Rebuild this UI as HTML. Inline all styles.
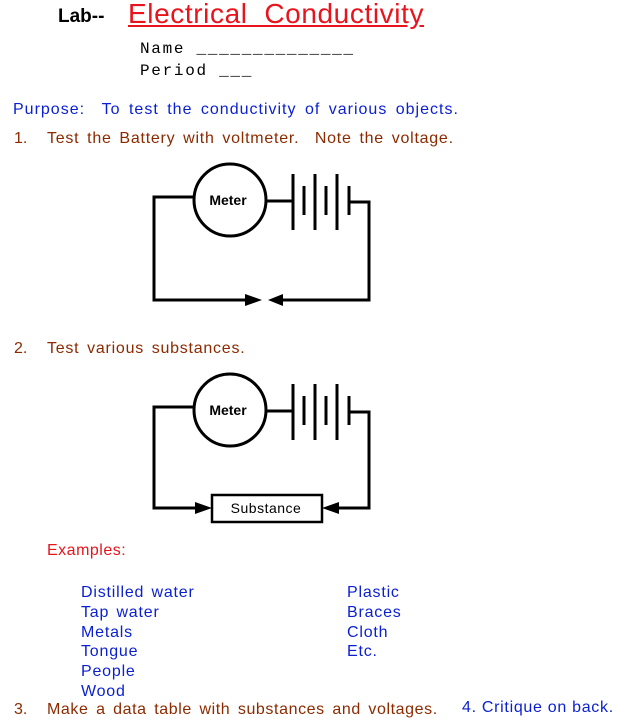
<!DOCTYPE html>
<html><head><style>
body{margin:0;width:623px;height:727px;background:#fff;position:relative;overflow:hidden;font-family:"Liberation Sans",sans-serif}
.t{position:absolute;white-space:nowrap}
.br{color:#8b2a00;font-size:16px;letter-spacing:0.75px;word-spacing:2.6px}
.bl{color:#0a1fd0;font-size:16px;letter-spacing:1px;word-spacing:3px}
.n{color:#8b2a00;font-size:16px}
</style></head><body>
<div class="t" style="left:58px;top:6px;font-size:19px;font-weight:bold;color:#000">Lab--</div>
<div class="t" style="left:128px;top:-2px;font-size:28px;letter-spacing:0.6px;color:#e8141c;text-decoration:underline">Electrical&nbsp; Conductivity</div>
<div class="t" style="left:140px;top:40px;font-size:16px;font-family:'Liberation Mono',monospace;letter-spacing:1.7px">Name ______________</div>
<div class="t" style="left:140px;top:62px;font-size:16px;font-family:'Liberation Mono',monospace;letter-spacing:1.7px">Period ___</div>
<div class="t bl" style="left:13px;top:101px">Purpose:&nbsp; To test the conductivity of various objects.</div>
<div class="t n" style="left:14px;top:130px">1.</div>
<div class="t br" style="left:47px;top:130px">Test the Battery with voltmeter. &nbsp;Note the voltage.</div>
<div class="t n" style="left:14px;top:340px">2.</div>
<div class="t br" style="left:47px;top:340px">Test various substances.</div>
<div class="t" style="left:47px;top:542px;color:#e8141c;font-size:16px;letter-spacing:0.5px">Examples:</div>
<div class="t bl" style="left:81px;top:583px;line-height:19.8px;letter-spacing:0.8px;word-spacing:2px">Distilled water<br>Tap water<br>Metals<br>Tongue<br>People<br>Wood</div>
<div class="t bl" style="left:347px;top:583px;line-height:19.8px;letter-spacing:0.8px">Plastic<br>Braces<br>Cloth<br>Etc.</div>
<div class="t n" style="left:14px;top:701px">3.</div>
<div class="t br" style="left:47px;top:701px;letter-spacing:0.6px;word-spacing:2.5px">Make a data table with substances and voltages.</div>
<div class="t" style="left:462px;top:699px;color:#0a1fd0;font-size:16px;letter-spacing:0.7px">4. Critique on back.</div>
<svg width="623" height="727" style="position:absolute;left:0;top:0" fill="none" stroke="#000" stroke-width="3">
<g>
<polyline points="194,197 154,197 154,300 245,300"/>
<polyline points="283,300 369,300 369,202 350,202"/>
<circle cx="230" cy="200" r="36"/>
<line x1="266" y1="201" x2="293" y2="201"/>
<line x1="293" y1="174" x2="293" y2="230"/>
<line x1="304" y1="186" x2="304" y2="215"/>
<line x1="315" y1="174" x2="315" y2="230"/>
<line x1="326" y1="186" x2="326" y2="215"/>
<line x1="337" y1="174" x2="337" y2="230"/>
<line x1="349" y1="186" x2="349" y2="215"/>
<text x="228" y="205" font-size="14" font-weight="bold" fill="#000" stroke="none" text-anchor="middle" font-family="Liberation Sans,sans-serif">Meter</text>
</g>
<polygon points="245,294 262,300 245,306" fill="#000" stroke="none"/>
<polygon points="283,294 268,300 283,306" fill="#000" stroke="none"/>
<g transform="translate(0,210)">
<polyline points="194,197 154,197 154,298 198,298"/>
<polyline points="336,298 369,298 369,202 350,202"/>
<circle cx="230" cy="200" r="36"/>
<line x1="266" y1="201" x2="293" y2="201"/>
<line x1="293" y1="174" x2="293" y2="230"/>
<line x1="304" y1="186" x2="304" y2="215"/>
<line x1="315" y1="174" x2="315" y2="230"/>
<line x1="326" y1="186" x2="326" y2="215"/>
<line x1="337" y1="174" x2="337" y2="230"/>
<line x1="349" y1="186" x2="349" y2="215"/>
<text x="228" y="205" font-size="14" font-weight="bold" fill="#000" stroke="none" text-anchor="middle" font-family="Liberation Sans,sans-serif">Meter</text>
<rect x="212" y="285" width="110" height="27" stroke-width="2.5"/>
<polygon points="195,292 212,298 195,304" fill="#000" stroke="none"/>
<polygon points="339,292 322,298 339,304" fill="#000" stroke="none"/>
<text x="266" y="303" font-size="14" letter-spacing="0.5" fill="#000" stroke="none" text-anchor="middle" font-family="Liberation Sans,sans-serif">Substance</text>
</g>
</svg>
</body></html>
